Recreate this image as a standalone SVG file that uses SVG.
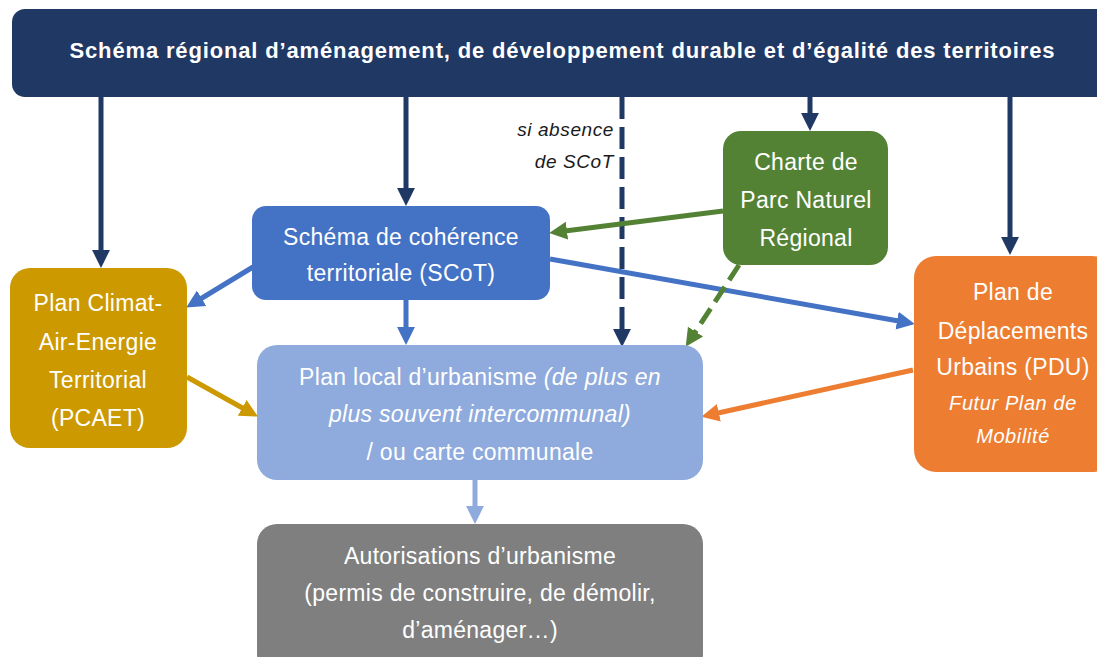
<svg xmlns="http://www.w3.org/2000/svg" width="1097" height="657" viewBox="0 0 1097 657">
<style>
text{font-family:"Liberation Sans",Arial,sans-serif;fill:#fff;text-anchor:middle}
.t{font-size:23px;letter-spacing:0.3px}
.i{font-style:italic}
.s{font-size:20px;letter-spacing:0.6px}
.lab{font-size:19px;font-style:italic;letter-spacing:0.6px;fill:#1a1a1a;text-anchor:end}
.c{fill:none;stroke-width:5}
.navy{stroke:#203864}
.blue{stroke:#4472c4}
.green{stroke:#548235}
.gold{stroke:#cc9900}
.orange{stroke:#ed7d31}
.lb{stroke:#8faadc}
</style>
<defs>
<marker id="aNavy" viewBox="0 0 10 10" refX="5.6" refY="5" markerUnits="userSpaceOnUse" markerWidth="18" markerHeight="20" orient="auto"><path d="M0,0L10,5L0,10z" fill="#203864"/></marker>
<marker id="aBlue" viewBox="0 0 10 10" refX="5.6" refY="5" markerUnits="userSpaceOnUse" markerWidth="18" markerHeight="20" orient="auto"><path d="M0,0L10,5L0,10z" fill="#4472c4"/></marker>
<marker id="aGreen" viewBox="0 0 10 10" refX="5.6" refY="5" markerUnits="userSpaceOnUse" markerWidth="18" markerHeight="20" orient="auto"><path d="M0,0L10,5L0,10z" fill="#548235"/></marker>
<marker id="aGold" viewBox="0 0 10 10" refX="5.6" refY="5" markerUnits="userSpaceOnUse" markerWidth="18" markerHeight="20" orient="auto"><path d="M0,0L10,5L0,10z" fill="#cc9900"/></marker>
<marker id="aOrange" viewBox="0 0 10 10" refX="5.6" refY="5" markerUnits="userSpaceOnUse" markerWidth="18" markerHeight="20" orient="auto"><path d="M0,0L10,5L0,10z" fill="#ed7d31"/></marker>
<marker id="aLb" viewBox="0 0 10 10" refX="5.6" refY="5" markerUnits="userSpaceOnUse" markerWidth="18" markerHeight="20" orient="auto"><path d="M0,0L10,5L0,10z" fill="#8faadc"/></marker>
</defs>
<rect width="1097" height="657" fill="#fff"/>
<g id="connectors">
<line class="c navy" x1="101" y1="96" x2="101" y2="260" marker-end="url(#aNavy)"/>
<line class="c navy" x1="406" y1="96" x2="406" y2="198" marker-end="url(#aNavy)"/>
<line class="c navy" x1="622" y1="97" x2="622" y2="339" stroke-width="6" stroke-dasharray="22 8" marker-end="url(#aNavy)"/>
<line class="c navy" x1="810" y1="96" x2="810" y2="123" marker-end="url(#aNavy)"/>
<line class="c navy" x1="1010" y1="96" x2="1010" y2="247" marker-end="url(#aNavy)"/>
<line class="c blue" x1="253" y1="267" x2="193" y2="303.5" marker-end="url(#aBlue)"/>
<line class="c blue" x1="406" y1="300" x2="406" y2="337" marker-end="url(#aBlue)"/>
<line class="c blue" x1="550" y1="259" x2="907" y2="322.5" marker-end="url(#aBlue)"/>
<line class="c green" x1="723" y1="211" x2="557" y2="232" marker-end="url(#aGreen)"/>
<line class="c green" x1="739" y1="265" x2="690" y2="340" stroke-width="6" stroke-dasharray="18 8" marker-end="url(#aGreen)"/>
<line class="c gold" x1="187" y1="377" x2="251" y2="412.7" marker-end="url(#aGold)"/>
<line class="c orange" x1="913" y1="370" x2="709" y2="415" marker-end="url(#aOrange)"/>
<line class="c lb" x1="475" y1="479" x2="475" y2="516" marker-end="url(#aLb)"/>
</g>
<g id="top">
<rect x="12" y="9" width="1100" height="88" rx="13" fill="#203864"/>
<text x="562" y="58" font-size="22" font-weight="bold" textLength="985">Schéma régional d’aménagement, de développement durable et d’égalité des territoires</text>
</g>
<g id="label-absence">
<text class="lab" x="614" y="136">si absence</text>
<text class="lab" x="614" y="168">de SCoT</text>
</g>
<g id="pcaet">
<rect x="10" y="268" width="177" height="180" rx="20" fill="#cc9900"/>
<text class="t" x="98" y="311">Plan Climat-</text>
<text class="t" x="98" y="350">Air-Energie</text>
<text class="t" x="98" y="388">Territorial</text>
<text class="t" x="98" y="426">(PCAET)</text>
</g>
<g id="scot">
<rect x="252" y="206" width="298" height="94" rx="14" fill="#4472c4"/>
<text class="t" x="401" y="245">Schéma de cohérence</text>
<text class="t" x="401" y="281">territoriale (SCoT)</text>
</g>
<g id="charte">
<rect x="723" y="131" width="165" height="134" rx="18" fill="#548235"/>
<text class="t" x="806" y="170">Charte de</text>
<text class="t" x="806" y="208">Parc Naturel</text>
<text class="t" x="806" y="246">Régional</text>
</g>
<g id="pdu">
<rect x="914" y="256" width="200" height="216" rx="22" fill="#ed7d31"/>
<text class="t" x="1013" y="300">Plan de</text>
<text class="t" x="1013" y="339">Déplacements</text>
<text class="t" x="1013" y="375">Urbains (PDU)</text>
<text class="s i" x="1013" y="410">Futur Plan de</text>
<text class="s i" x="1013" y="443">Mobilité</text>
</g>
<g id="plu">
<rect x="257" y="345" width="446" height="135" rx="20" fill="#8faadc"/>
<text class="t" x="480" y="385">Plan local d’urbanisme <tspan class="i">(de plus en</tspan></text>
<text class="t i" x="480" y="422">plus souvent intercommunal)</text>
<text class="t" x="480" y="460">/ ou carte communale</text>
</g>
<g id="autorisations">
<rect x="257" y="524" width="446" height="150" rx="20" fill="#7f7f7f"/>
<text class="t" x="480" y="564">Autorisations d’urbanisme</text>
<text class="t" x="480" y="601">(permis de construire, de démolir,</text>
<text class="t" x="480" y="638">d’aménager…)</text>
</g>
</svg>
